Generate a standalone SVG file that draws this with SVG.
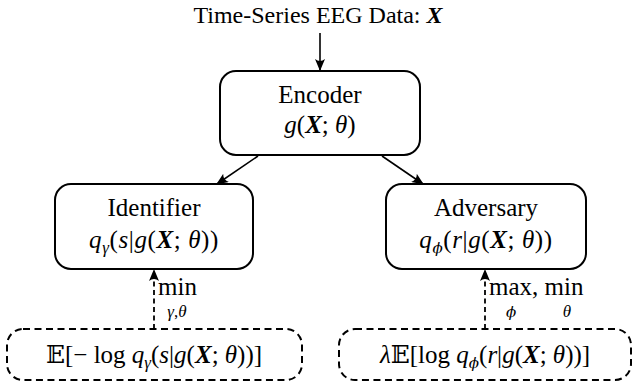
<svg xmlns="http://www.w3.org/2000/svg" width="632" height="388" viewBox="0 0 632 388">
<style>
.box{fill:#fff;stroke:#000;stroke-width:2}
.dbox{fill:none;stroke:#000;stroke-width:2;stroke-dasharray:7,4.5}
.t{font-family:"Liberation Serif","Times New Roman",serif;font-size:25px;fill:#000;text-anchor:middle}
.lab{font-family:"Liberation Serif","Times New Roman",serif;font-size:25px;fill:#000}
.s{font-size:17px}
.i{font-style:italic}
.b{font-style:italic;font-weight:bold}
.bb{font-family:"DejaVu Serif","DejaVu Sans",serif}
.ph{font-family:"DejaVu Serif","DejaVu Sans",serif;font-style:italic;font-size:15px}
.c{fill:none;stroke:#000;stroke-width:1.6}
.d{fill:none;stroke:#000;stroke-width:1.8;stroke-dasharray:5,3.5}
</style>
<defs>
<marker id="ah" viewBox="0 0 12 10" refX="11" refY="5" markerWidth="12" markerHeight="10" markerUnits="userSpaceOnUse" orient="auto">
<path d="M0,0 Q4,5 0,10 L12,5 Z" fill="#000"/>
</marker>
</defs>
<text id="title" class="t" x="318" y="23" style="font-size:24px">Time-Series EEG Data: <tspan class="b">X</tspan></text>
<g id="encoder">
<rect class="box" x="220" y="71" width="200" height="84" rx="16"/>
<text class="t" x="320" y="103">Encoder</text>
<text class="t" x="320" y="133"><tspan class="i">g</tspan>(<tspan class="b">X</tspan>; <tspan class="i">θ</tspan>)</text>
</g>
<g id="identifier">
<rect class="box" x="55" y="184" width="198" height="85" rx="16"/>
<text class="t" x="154" y="216">Identifier</text>
<text class="t" x="154" y="248" letter-spacing="0.6"><tspan class="i">q</tspan><tspan class="i s" dy="5">γ</tspan><tspan dy="-5">(</tspan><tspan class="i">s</tspan>|<tspan class="i">g</tspan>(<tspan class="b">X</tspan>; <tspan class="i">θ</tspan>))</text>
</g>
<g id="adversary">
<rect class="box" x="386" y="184" width="200" height="85" rx="16"/>
<text class="t" x="486" y="216">Adversary</text>
<text class="t" x="486" y="248" letter-spacing="0.6"><tspan class="i">q</tspan><tspan class="ph" dy="5">ϕ</tspan><tspan dy="-5">(</tspan><tspan class="i">r</tspan>|<tspan class="i">g</tspan>(<tspan class="b">X</tspan>; <tspan class="i">θ</tspan>))</text>
</g>
<g id="loss-identifier">
<rect class="dbox" x="7" y="329" width="295" height="51" rx="16"/>
<text class="t" x="154" y="363"><tspan class="bb">𝔼</tspan>[− log <tspan class="i">q</tspan><tspan class="i s" dy="5">γ</tspan><tspan dy="-5">(</tspan><tspan class="i">s</tspan>|<tspan class="i">g</tspan>(<tspan class="b">X</tspan>; <tspan class="i">θ</tspan>))]</text>
</g>
<g id="loss-adversary">
<rect class="dbox" x="339" y="329" width="292" height="51" rx="16"/>
<text class="t" x="485" y="363"><tspan class="i">λ</tspan><tspan class="bb">𝔼</tspan>[log <tspan class="i">q</tspan><tspan class="ph" dy="5">ϕ</tspan><tspan dy="-5">(</tspan><tspan class="i">r</tspan>|<tspan class="i">g</tspan>(<tspan class="b">X</tspan>; <tspan class="i">θ</tspan>))]</text>
</g>
<g id="connectors">
<line class="c" x1="320" y1="33" x2="320" y2="70" marker-end="url(#ah)"/>
<line class="c" x1="258" y1="156" x2="217" y2="184" marker-end="url(#ah)"/>
<line class="c" x1="382" y1="156" x2="423" y2="184" marker-end="url(#ah)"/>
<line class="d" x1="154" y1="329" x2="154" y2="270" marker-end="url(#ah)"/>
<line class="d" x1="485" y1="329" x2="485" y2="270" marker-end="url(#ah)"/>
<text class="lab" x="158" y="295">min</text>
<text class="lab s" x="177" y="317" text-anchor="middle"><tspan class="i">γ</tspan>,<tspan class="i">θ</tspan></text>
<text class="lab" x="489" y="295">max, min</text>
<text class="lab ph" x="511" y="317" text-anchor="middle">ϕ</text>
<text class="lab s i" x="567" y="317" text-anchor="middle">θ</text>
</g>
</svg>
